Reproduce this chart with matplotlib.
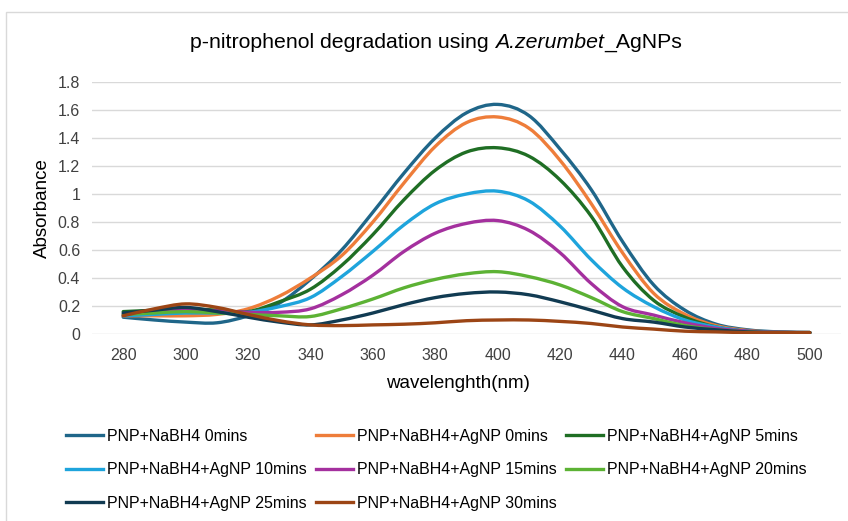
import numpy as np
import matplotlib
matplotlib.use("Agg")
import matplotlib.pyplot as plt
from matplotlib.path import Path
from matplotlib.patches import PathPatch, Rectangle
from matplotlib.lines import Line2D

plt.rcParams['font.family'] = ['Liberation Sans', 'DejaVu Sans']

# data (absorbance vs wavelength, nm)
wavelength = [280, 290, 300, 310, 320, 330, 340, 350, 360, 370, 380, 390,
              400, 410, 420, 430, 440, 450, 460, 470, 480, 490, 500]

pnp_nabh4_0 = [0.12, 0.10, 0.085, 0.08, 0.13, 0.22, 0.39, 0.60, 0.87, 1.15, 1.40, 1.58,
               1.64, 1.56, 1.32, 1.03, 0.66, 0.35, 0.17, 0.07, 0.03, 0.015, 0.01]
agnp_0 = [0.13, 0.13, 0.13, 0.14, 0.18, 0.27, 0.40, 0.56, 0.80, 1.08, 1.34, 1.51,
          1.55, 1.47, 1.24, 0.93, 0.58, 0.29, 0.14, 0.06, 0.025, 0.012, 0.01]
agnp_5 = [0.16, 0.17, 0.18, 0.17, 0.16, 0.23, 0.32, 0.49, 0.71, 0.96, 1.17, 1.30,
          1.33, 1.27, 1.10, 0.84, 0.48, 0.24, 0.12, 0.05, 0.02, 0.012, 0.01]
agnp_10 = [0.13, 0.14, 0.15, 0.15, 0.155, 0.195, 0.26, 0.41, 0.59, 0.78, 0.93, 1.00,
           1.02, 0.95, 0.77, 0.53, 0.33, 0.195, 0.10, 0.05, 0.02, 0.012, 0.01]
agnp_15 = [0.14, 0.16, 0.17, 0.165, 0.155, 0.155, 0.18, 0.28, 0.42, 0.59, 0.72, 0.79,
           0.81, 0.74, 0.58, 0.36, 0.195, 0.135, 0.08, 0.04, 0.02, 0.012, 0.01]
agnp_20 = [0.14, 0.15, 0.16, 0.15, 0.14, 0.13, 0.125, 0.18, 0.25, 0.33, 0.39, 0.43,
           0.445, 0.41, 0.35, 0.26, 0.16, 0.11, 0.06, 0.03, 0.015, 0.01, 0.01]
agnp_25 = [0.15, 0.17, 0.19, 0.16, 0.12, 0.085, 0.065, 0.10, 0.15, 0.21, 0.26, 0.29,
           0.30, 0.28, 0.23, 0.17, 0.11, 0.085, 0.05, 0.03, 0.015, 0.01, 0.01]
agnp_30 = [0.13, 0.18, 0.215, 0.19, 0.14, 0.095, 0.065, 0.06, 0.065, 0.07, 0.08, 0.095,
           0.10, 0.10, 0.09, 0.075, 0.05, 0.035, 0.02, 0.015, 0.01, 0.01, 0.01]

labels = ['PNP+NaBH4 0mins', 'PNP+NaBH4+AgNP 0mins', 'PNP+NaBH4+AgNP 5mins',
          'PNP+NaBH4+AgNP 10mins', 'PNP+NaBH4+AgNP 15mins', 'PNP+NaBH4+AgNP 20mins',
          'PNP+NaBH4+AgNP 25mins', 'PNP+NaBH4+AgNP 30mins']
series = [pnp_nabh4_0, agnp_0, agnp_5, agnp_10, agnp_15, agnp_20, agnp_25, agnp_30]
colors = ['#1f6689', '#ee7d3a', '#1f6e24', '#1ea4dc', '#a4309e', '#5cb234', '#113b52', '#9c4515']

title_parts = [('p-nitrophenol degradation using\u00a0', 'normal'),
               ('A.zerumbet', 'italic'),
               ('_AgNPs', 'normal')]


def smooth_path(x, y):
    # cubic bezier through the points (Excel-style smoothed line)
    x = np.asarray(x, float)
    y = np.asarray(y, float)
    pts = np.column_stack([x, y])
    verts = [pts[0]]
    codes = [Path.MOVETO]
    n = len(pts)
    for i in range(n - 1):
        p0 = pts[max(i - 1, 0)]
        p1 = pts[i]
        p2 = pts[i + 1]
        p3 = pts[min(i + 2, n - 1)]
        c1 = p1 + (p2 - p0) / 6.0
        c2 = p2 - (p3 - p1) / 6.0
        verts += [c1, c2, p2]
        codes += [Path.CURVE4] * 3
    return Path(verts, codes)


fig = plt.figure(figsize=(8.48, 5.21), dpi=100)
W, H = 848, 521
ax = fig.add_axes([92 / W, 1 - 334 / H, (841 - 92) / W, (334 - 82) / H])

fig.patches.append(Rectangle((6 / W, -0.1), 1.2, 1 - 12 / H + 0.1, transform=fig.transFigure,
                             fill=False, edgecolor='#d9d9d9', linewidth=1.0, zorder=0))

handles = []
for s, c, lab in zip(series, colors, labels):
    ax.add_patch(PathPatch(smooth_path(wavelength, s), fill=False, edgecolor=c,
                           linewidth=2.4, capstyle='round', joinstyle='round'))
    handles.append(Line2D([], [], color=c, linewidth=2.4, label=lab))

ax.set_xlim(270, 510)
ax.set_ylim(0, 1.8)
ax.set_xticks(range(280, 501, 20))
ax.set_yticks([0, 0.2, 0.4, 0.6, 0.8, 1.0, 1.2, 1.4, 1.6, 1.8])
ax.set_yticklabels(['0', '0.2', '0.4', '0.6', '0.8', '1', '1.2', '1.4', '1.6', '1.8'])
ax.tick_params(axis='both', length=0, labelsize=11.5, colors='#404040')
ax.tick_params(axis='x', pad=10)
ax.tick_params(axis='y', pad=8.5)
ax.grid(axis='y', color='#d9d9d9', linewidth=1.0)
ax.set_axisbelow(True)
for sp in ax.spines.values():
    sp.set_visible(False)

fig.text(42 / W, 1 - 208 / H, 'Absorbance', rotation=90, ha='center', va='center',
         fontsize=13.5, color='black')
fig.text(458 / W, 1 - 383 / H, 'wavelenghth(nm)', ha='center', va='center',
         fontsize=13.5, color='black')

# title in three pieces so the species name is italic without extra spacing
renderer = fig.canvas.get_renderer()
pieces = []
widths = []
for txt, style in title_parts:
    t = fig.text(0, 1 - 42 / H, txt, style=style, ha='left', va='baseline',
                 fontsize=15.3, color='black')
    widths.append(t.get_window_extent(renderer).width)
    pieces.append(t)
x0 = 436 - sum(widths) / 2
for t, w in zip(pieces, widths):
    t.set_position((x0 / W, 1 - 48 / H))
    x0 += w

order = [0, 3, 6, 1, 4, 7, 2, 5]
fig.legend([handles[i] for i in order], [labels[i] for i in order], ncol=3,
           loc='upper left', bbox_to_anchor=(66 / W, 1 - 429 / H), frameon=False,
           fontsize=11.5, handlelength=2.3, handletextpad=0.25, columnspacing=0.6,
           labelspacing=1.15, borderpad=0, borderaxespad=0)

fig.savefig('out.png', dpi=100)
